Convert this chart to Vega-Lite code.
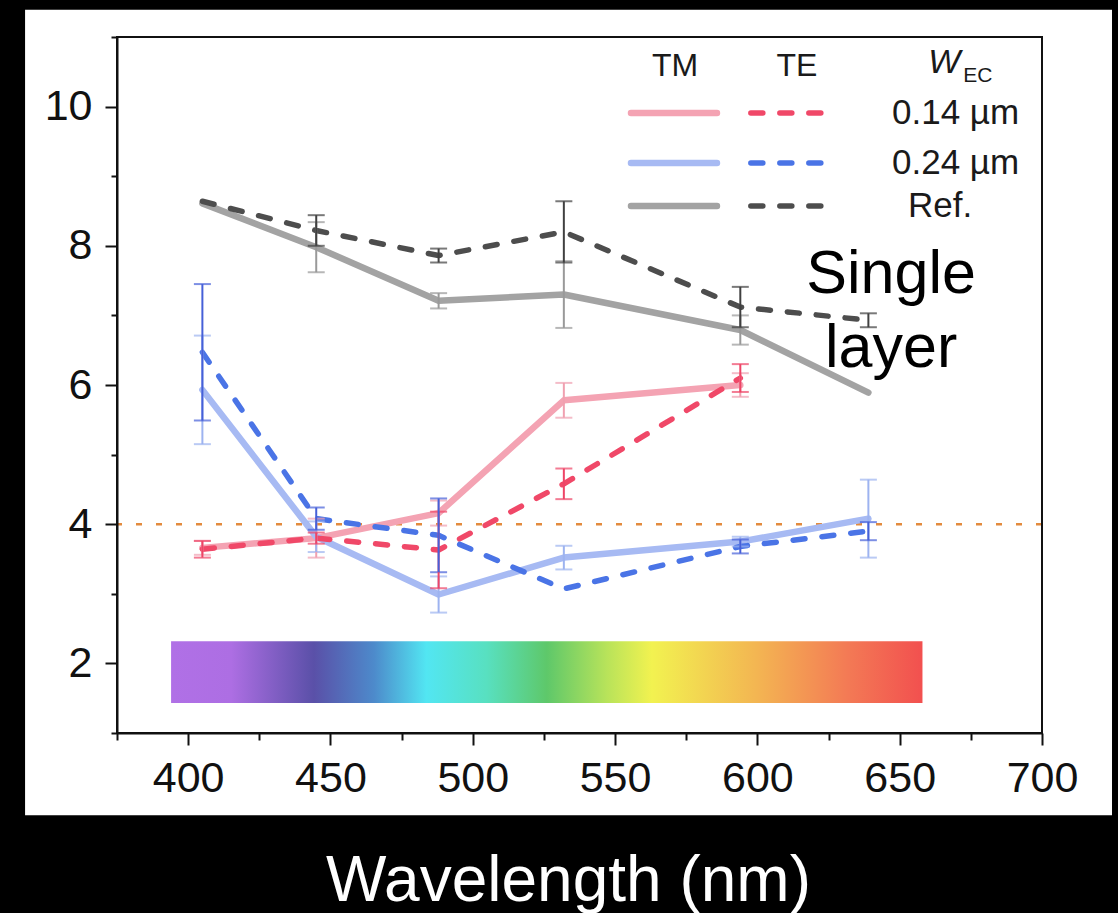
{
  "$schema": "https://vega.github.io/schema/vega-lite/v6.json",
  "width": 925,
  "height": 696,
  "autosize": {"type": "none"},
  "padding": {"left": 117, "top": 37, "right": 76, "bottom": 180},
  "background": "black",
  "config": {
    "view": {"stroke": null},
    "font": "Liberation Sans",
    "axis": {
      "zindex": 2, "grid": false, "domainColor": "#111", "tickColor": "#111",
      "domainWidth": 2, "tickWidth": 2, "labelColor": "#111", "labelFont": "Liberation Sans",
      "labelFontSize": 43, "labelFlush": false, "labelOverlap": false
    }
  },
  "datasets": {
    "d": [
      {"wl": 405, "w": "0.14 µm", "pol": "TM", "v": 3.66, "e": 0.1},
      {"wl": 445, "w": "0.14 µm", "pol": "TM", "v": 3.8, "e": 0.28},
      {"wl": 488, "w": "0.14 µm", "pol": "TM", "v": 4.16, "e": 0.18},
      {"wl": 532, "w": "0.14 µm", "pol": "TM", "v": 5.78, "e": 0.25},
      {"wl": 594, "w": "0.14 µm", "pol": "TM", "v": 6.0, "e": 0.17},
      {"wl": 405, "w": "0.14 µm", "pol": "TE", "v": 3.64, "e": 0.12},
      {"wl": 445, "w": "0.14 µm", "pol": "TE", "v": 3.8, "e": 0.08},
      {"wl": 488, "w": "0.14 µm", "pol": "TE", "v": 3.63, "e": 0.55},
      {"wl": 532, "w": "0.14 µm", "pol": "TE", "v": 4.58, "e": 0.22},
      {"wl": 594, "w": "0.14 µm", "pol": "TE", "v": 6.1, "e": 0.2},
      {"wl": 405, "w": "0.24 µm", "pol": "TM", "v": 5.93, "e": 0.78},
      {"wl": 445, "w": "0.24 µm", "pol": "TM", "v": 3.82, "e": 0.22},
      {"wl": 488, "w": "0.24 µm", "pol": "TM", "v": 2.99, "e": 0.26},
      {"wl": 532, "w": "0.24 µm", "pol": "TM", "v": 3.52, "e": 0.17},
      {"wl": 594, "w": "0.24 µm", "pol": "TM", "v": 3.75, "e": 0.07},
      {"wl": 639, "w": "0.24 µm", "pol": "TM", "v": 4.08, "e": 0.56},
      {"wl": 405, "w": "0.24 µm", "pol": "TE", "v": 6.47, "e": 0.98},
      {"wl": 445, "w": "0.24 µm", "pol": "TE", "v": 4.08, "e": 0.16},
      {"wl": 488, "w": "0.24 µm", "pol": "TE", "v": 3.84, "e": 0.53},
      {"wl": 532, "w": "0.24 µm", "pol": "TE", "v": 3.07, "e": 0},
      {"wl": 594, "w": "0.24 µm", "pol": "TE", "v": 3.68, "e": 0.1},
      {"wl": 639, "w": "0.24 µm", "pol": "TE", "v": 3.9, "e": 0.13},
      {"wl": 405, "w": "Ref.", "pol": "TM", "v": 8.61, "e": 0},
      {"wl": 445, "w": "Ref.", "pol": "TM", "v": 7.98, "e": 0.36},
      {"wl": 488, "w": "Ref.", "pol": "TM", "v": 7.21, "e": 0.11},
      {"wl": 532, "w": "Ref.", "pol": "TM", "v": 7.3, "e": 0.48},
      {"wl": 594, "w": "Ref.", "pol": "TM", "v": 6.79, "e": 0.21},
      {"wl": 639, "w": "Ref.", "pol": "TM", "v": 5.89, "e": 0},
      {"wl": 405, "w": "Ref.", "pol": "TE", "v": 8.64, "e": 0},
      {"wl": 445, "w": "Ref.", "pol": "TE", "v": 8.22, "e": 0.22},
      {"wl": 488, "w": "Ref.", "pol": "TE", "v": 7.86, "e": 0.1},
      {"wl": 532, "w": "Ref.", "pol": "TE", "v": 8.2, "e": 0.44},
      {"wl": 594, "w": "Ref.", "pol": "TE", "v": 7.12, "e": 0.29},
      {"wl": 639, "w": "Ref.", "pol": "TE", "v": 6.93, "e": 0.1}
    ]
  },
  "resolve": {"axis": {"x": "independent", "y": "independent"}, "scale": {"color": "independent"}},
  "layer": [
    {
      "data": {"values": [{}]},
      "mark": {"type": "rect", "fill": "white", "clip": false},
      "encoding": {
        "x": {"datum": 342.7, "type": "quantitative", "scale": {"domain": [375, 700], "nice": false, "zero": false},
          "axis": {"orient": "bottom", "zindex": 2, "values": [375, 425, 475, 525, 575, 625, 675], "tickSize": 7, "labels": false, "domain": false, "title": null}},
        "x2": {"datum": 724.6},
        "y": {"datum": -0.18, "type": "quantitative", "scale": {"domain": [1, 11], "nice": false, "zero": false},
          "axis": {"orient": "left", "zindex": 2, "values": [1, 3, 5, 7, 9, 11], "tickSize": 6, "labels": false, "domain": false, "title": null}},
        "y2": {"datum": 11.39}
      }
    },
    {
      "data": {"values": [{}]},
      "mark": {"type": "rect", "fill": {"gradient": "linear", "x1": 0, "x2": 1, "y1": 0, "y2": 0, "stops": [
        {"offset": 0, "color": "#B070E6"},
        {"offset": 0.08, "color": "#AD6EE3"},
        {"offset": 0.19, "color": "#5A50A8"},
        {"offset": 0.27, "color": "#4D8ACB"},
        {"offset": 0.34, "color": "#52E6F2"},
        {"offset": 0.42, "color": "#58E0C0"},
        {"offset": 0.5, "color": "#5EC86A"},
        {"offset": 0.58, "color": "#B8E35A"},
        {"offset": 0.64, "color": "#F2F250"},
        {"offset": 0.78, "color": "#F3B552"},
        {"offset": 0.9, "color": "#F37A55"},
        {"offset": 1, "color": "#F2504F"}
      ]}},
      "encoding": {
        "x": {"datum": 394, "type": "quantitative", "axis": null},
        "x2": {"datum": 658},
        "y": {"datum": 1.43, "type": "quantitative", "axis": null},
        "y2": {"datum": 2.32}
      }
    },
    {
      "data": {"values": [{}]},
      "mark": {"type": "rule", "color": "#E38B3E", "strokeWidth": 2.5, "strokeDash": [6, 14]},
      "encoding": {"y": {"datum": 4, "type": "quantitative", "axis": null}}
    },
    {
      "data": {"name": "d"},
      "transform": [{"filter": "datum.pol === 'TM'"}],
      "mark": {"type": "line", "strokeWidth": 6.5, "strokeCap": "round", "strokeJoin": "round"},
      "encoding": {
        "x": {"field": "wl", "type": "quantitative", "axis": null},
        "y": {"field": "v", "type": "quantitative", "axis": null},
        "color": {"field": "w", "type": "nominal", "legend": null,
          "scale": {"domain": ["0.14 µm", "0.24 µm", "Ref."], "range": ["#F4A3B3", "#A7BAF3", "#A3A3A3"]}}
      }
    },
    {
      "data": {"name": "d"},
      "transform": [{"filter": "datum.pol === 'TE'"}],
      "mark": {"type": "line", "strokeWidth": 5.5, "strokeCap": "round", "strokeJoin": "round", "strokeDash": [12, 17]},
      "encoding": {
        "x": {"field": "wl", "type": "quantitative", "axis": null},
        "y": {"field": "v", "type": "quantitative", "axis": null},
        "color": {"field": "w", "type": "nominal", "legend": null,
          "scale": {"domain": ["0.14 µm", "0.24 µm", "Ref."], "range": ["#F04868", "#4A74E6", "#4D4D4D"]}}
      }
    },
    {
      "data": {"name": "d"},
      "transform": [{"filter": "datum.pol === 'TM' && datum.e > 0"}],
      "mark": {"type": "errorbar", "ticks": true, "size": 17, "thickness": 2},
      "encoding": {
        "x": {"field": "wl", "type": "quantitative", "axis": null},
        "y": {"field": "v", "type": "quantitative", "axis": null},
        "yError": {"field": "e"},
        "color": {"field": "w", "type": "nominal", "legend": null,
          "scale": {"domain": ["0.14 µm", "0.24 µm", "Ref."], "range": ["#F0A0B0", "#9DB3F0", "#999999"]}}
      }
    },
    {
      "data": {"name": "d"},
      "transform": [{"filter": "datum.pol === 'TE' && datum.e > 0"}],
      "mark": {"type": "errorbar", "ticks": true, "size": 17, "thickness": 2},
      "encoding": {
        "x": {"field": "wl", "type": "quantitative", "axis": null},
        "y": {"field": "v", "type": "quantitative", "axis": null},
        "yError": {"field": "e"},
        "color": {"field": "w", "type": "nominal", "legend": null,
          "scale": {"domain": ["0.14 µm", "0.24 µm", "Ref."], "range": ["#EE4466", "#4660D8", "#404040"]}}
      }
    },
    {
      "data": {"values": [{}]},
      "mark": {"type": "rect", "filled": false, "stroke": "#111", "strokeWidth": 2},
      "encoding": {
        "x": {"datum": 375, "type": "quantitative", "scale": {"domain": [375, 700], "nice": false, "zero": false},
          "axis": {"orient": "bottom", "zindex": 2, "values": [400, 450, 500, 550, 600, 650, 700], "tickSize": 12, "labelPadding": 12,
            "title": "Wavelength (nm)", "titleColor": "white", "titleFontSize": 64, "titleFontWeight": "normal",
            "titleFont": "Liberation Sans", "titleX": 451, "titleY": 167, "titleAlign": "center", "titleBaseline": "alphabetic"}},
        "x2": {"datum": 700},
        "y": {"datum": 1, "type": "quantitative", "scale": {"domain": [1, 11], "nice": false, "zero": false},
          "axis": {"orient": "left", "zindex": 2, "values": [2, 4, 6, 8, 10], "tickSize": 12, "labelPadding": 13, "title": null}},
        "y2": {"datum": 11}
      }
    },
    {
      "data": {"values": [{}]},
      "mark": {"type": "rule", "color": "#F4A3B3", "strokeWidth": 6.5, "strokeCap": "round"},
      "encoding": {"x": {"datum": 555.6, "type": "quantitative", "axis": null}, "x2": {"datum": 585.8}, "y": {"datum": 9.908, "type": "quantitative", "axis": null}}
    },
    {
      "data": {"values": [{}]},
      "mark": {"type": "rule", "color": "#A7BAF3", "strokeWidth": 6.5, "strokeCap": "round"},
      "encoding": {"x": {"datum": 555.6, "type": "quantitative", "axis": null}, "x2": {"datum": 585.8}, "y": {"datum": 9.19, "type": "quantitative", "axis": null}}
    },
    {
      "data": {"values": [{}]},
      "mark": {"type": "rule", "color": "#A3A3A3", "strokeWidth": 6.5, "strokeCap": "round"},
      "encoding": {"x": {"datum": 555.6, "type": "quantitative", "axis": null}, "x2": {"datum": 585.8}, "y": {"datum": 8.572, "type": "quantitative", "axis": null}}
    },
    {
      "data": {"values": [{}]},
      "mark": {"type": "rule", "color": "#F04868", "strokeWidth": 5.5, "strokeCap": "round", "strokeDash": [12, 17]},
      "encoding": {"x": {"datum": 597.7, "type": "quantitative", "axis": null}, "x2": {"datum": 625.2}, "y": {"datum": 9.908, "type": "quantitative", "axis": null}}
    },
    {
      "data": {"values": [{}]},
      "mark": {"type": "rule", "color": "#4A74E6", "strokeWidth": 5.5, "strokeCap": "round", "strokeDash": [12, 17]},
      "encoding": {"x": {"datum": 597.7, "type": "quantitative", "axis": null}, "x2": {"datum": 625.2}, "y": {"datum": 9.19, "type": "quantitative", "axis": null}}
    },
    {
      "data": {"values": [{}]},
      "mark": {"type": "rule", "color": "#4D4D4D", "strokeWidth": 5.5, "strokeCap": "round", "strokeDash": [12, 17]},
      "encoding": {"x": {"datum": 597.7, "type": "quantitative", "axis": null}, "x2": {"datum": 625.2}, "y": {"datum": 8.572, "type": "quantitative", "axis": null}}
    },
    {
      "data": {"values": [{}]},
      "mark": {"type": "text", "text": "0.14 µm", "align": "left", "baseline": "middle", "fontSize": 35, "color": "#1a1a1a"},
      "encoding": {"x": {"datum": 647.3, "type": "quantitative", "axis": null}, "y": {"datum": 9.908, "type": "quantitative", "axis": null}}
    },
    {
      "data": {"values": [{}]},
      "mark": {"type": "text", "text": "0.24 µm", "align": "left", "baseline": "middle", "fontSize": 35, "color": "#1a1a1a"},
      "encoding": {"x": {"datum": 647.3, "type": "quantitative", "axis": null}, "y": {"datum": 9.19, "type": "quantitative", "axis": null}}
    },
    {
      "data": {"values": [{}]},
      "mark": {"type": "text", "text": "Ref.", "align": "left", "baseline": "middle", "fontSize": 35, "color": "#1a1a1a"},
      "encoding": {"x": {"datum": 652.9, "type": "quantitative", "axis": null}, "y": {"datum": 8.572, "type": "quantitative", "axis": null}}
    },
    {
      "data": {"values": [{}]},
      "mark": {"type": "text", "text": "TM", "align": "center", "baseline": "alphabetic", "fontSize": 32, "color": "#1a1a1a"},
      "encoding": {"x": {"datum": 571.1, "type": "quantitative", "axis": null}, "y": {"datum": 10.44, "type": "quantitative", "axis": null}}
    },
    {
      "data": {"values": [{}]},
      "mark": {"type": "text", "text": "TE", "align": "center", "baseline": "alphabetic", "fontSize": 32, "color": "#1a1a1a"},
      "encoding": {"x": {"datum": 613.9, "type": "quantitative", "axis": null}, "y": {"datum": 10.44, "type": "quantitative", "axis": null}}
    },
    {
      "data": {"values": [{}]},
      "mark": {"type": "text", "text": "W", "align": "left", "baseline": "alphabetic", "fontSize": 34, "fontStyle": "italic", "color": "#1a1a1a"},
      "encoding": {"x": {"datum": 660.0, "type": "quantitative", "axis": null}, "y": {"datum": 10.48, "type": "quantitative", "axis": null}}
    },
    {
      "data": {"values": [{}]},
      "mark": {"type": "text", "text": "EC", "align": "left", "baseline": "alphabetic", "fontSize": 21, "color": "#1a1a1a"},
      "encoding": {"x": {"datum": 672.3, "type": "quantitative", "axis": null}, "y": {"datum": 10.35, "type": "quantitative", "axis": null}}
    },
    {
      "data": {"values": [{}]},
      "mark": {"type": "text", "text": ["Single", "layer"], "align": "center", "baseline": "alphabetic", "fontSize": 61, "lineHeight": 74, "color": "black"},
      "encoding": {"x": {"datum": 647.0, "type": "quantitative", "axis": null}, "y": {"datum": 7.32, "type": "quantitative", "axis": null}}
    }
  ]
}
